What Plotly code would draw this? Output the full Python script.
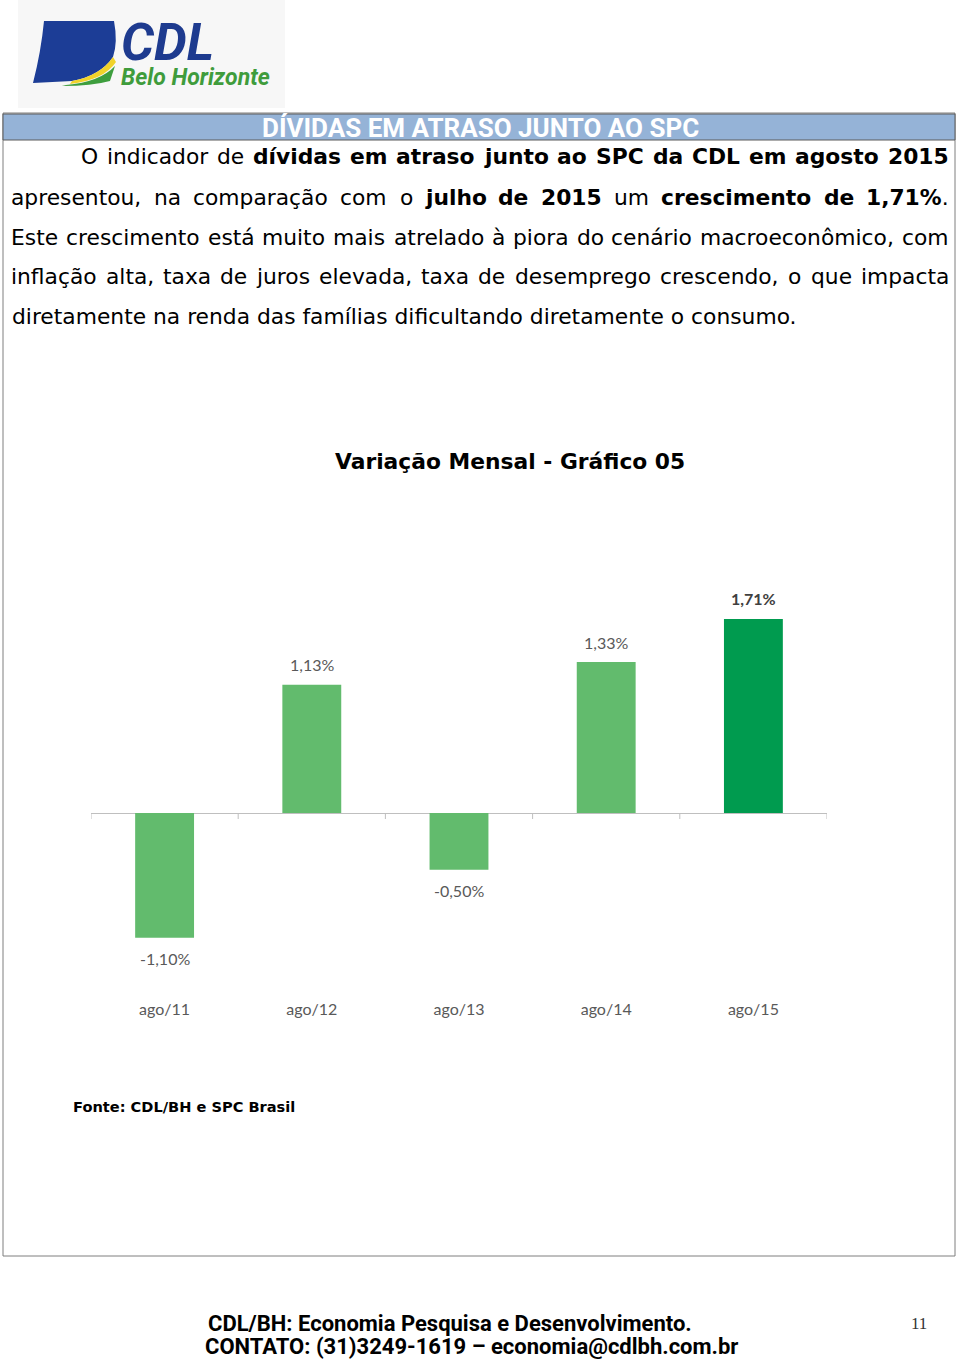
import plotly.graph_objects as go

# ---------------- data ----------------
categories = ["ago/11", "ago/12", "ago/13", "ago/14", "ago/15"]
values = [-1.10, 1.13, -0.50, 1.33, 1.71]
value_labels = ["-1,10%", "1,13%", "-0,50%", "1,33%", "1,71%"]
highlight = [False, False, False, False, True]

W, H = 960, 1359


def px(x):
    return x / W


def py(y):
    return 1 - y / H


LIGHT = "#62BB6D"
DARK = "#009B4F"
bar_colors = [DARK if h else LIGHT for h in highlight]

fig = go.Figure()
fig.add_trace(go.Bar(
    x=categories, y=values, width=0.4,
    marker=dict(color=bar_colors, line=dict(width=0)),
    hoverinfo="skip", showlegend=False,
))

# y scale: zero at 813 px, 113.5 px per unit
top_px, bot_px, zero_px, scale = 560, 998, 813, 113.5
y_top = (zero_px - top_px) / scale
y_bot = -(bot_px - zero_px) / scale

shapes = []
annotations = []

CHART_FONT = "Lato, Open Sans, sans-serif"

# value labels
for c, v, lab, h in zip(categories, values, value_labels, highlight):
    annotations.append(dict(
        x=c, y=v, xref="x", yref="y", text=f"<b>{lab}</b>" if h else lab,
        showarrow=False, yshift=20 if v >= 0 else -21, yanchor="middle",
        font=dict(family=CHART_FONT, size=16,
                  color="#404040" if h else "#595959"),
    ))

# tick marks on category boundaries along the zero line
for i in range(len(categories) + 1):
    shapes.append(dict(
        type="line", xref="x", yref="y", x0=i - 0.5, x1=i - 0.5,
        ysizemode="pixel", yanchor=0, y0=0, y1=-6,
        line=dict(color="#BFBFBF", width=1),
    ))

# ---------- page decoration ----------
shapes.append(dict(type="rect", xref="paper", yref="paper",
                   x0=px(18), x1=px(285), y0=py(108), y1=py(0),
                   fillcolor="#F7F7F7", line=dict(width=0), layer="below"))


def path(points):
    s = ""
    for cmd, pts in points:
        s += cmd + " " + " ".join(f"{px(a):.5f},{py(b):.5f}" for a, b in pts) + " "
    return s + "Z"


shapes.append(dict(type="path", xref="paper", yref="paper", line=dict(width=0),
                   fillcolor="#1C3D96",
                   path=path([("M", [(44, 21)]), ("L", [(114, 21)]),
                              ("Q", [(118, 42), (113, 57)]),
                              ("Q", [(100, 76), (72, 81)]),
                              ("L", [(33, 83)]),
                              ("Q", [(41, 52), (44, 21)])])))
shapes.append(dict(type="path", xref="paper", yref="paper", line=dict(width=0),
                   fillcolor="#F1D32A",
                   path=path([("M", [(72, 81)]), ("Q", [(100, 76), (113, 57)]),
                              ("L", [(116, 62)]),
                              ("Q", [(104, 80), (70, 84)])])))
shapes.append(dict(type="path", xref="paper", yref="paper", line=dict(width=0),
                   fillcolor="#3E9E3E",
                   path=path([("M", [(66, 85)]), ("Q", [(100, 82), (115, 66)]),
                              ("L", [(110, 81)]),
                              ("Q", [(92, 86), (62, 86)])])))

annotations.append(dict(xref="paper", yref="paper", x=px(120), y=py(42),
                        xanchor="left", yanchor="middle", showarrow=False,
                        text="<b><i>CDL</i></b>", borderpad=0,
                        font=dict(family="Roboto", size=52, color="#1E3B8F")))
annotations.append(dict(xref="paper", yref="paper", x=px(120), y=py(78),
                        xanchor="left", yanchor="middle", showarrow=False,
                        text="<b><i>Belo Horizonte</i></b>", borderpad=0,
                        font=dict(family="Roboto", size=23, color="#3F9C3C")))

# page frame
shapes.append(dict(type="rect", xref="paper", yref="paper",
                   x0=px(3), x1=px(955), y0=py(1256), y1=py(113),
                   line=dict(color="#7F7F7F", width=1), layer="below"))
# header bar
shapes.append(dict(type="rect", xref="paper", yref="paper",
                   x0=px(3), x1=px(955), y0=py(140), y1=py(114),
                   fillcolor="#95B3D7", line=dict(color="#5A5A5A", width=1),
                   layer="below"))
annotations.append(dict(xref="paper", yref="paper", x=px(480), y=py(128),
                        xanchor="center", yanchor="middle", showarrow=False,
                        text="<b>DÍVIDAS EM ATRASO JUNTO AO SPC</b>", borderpad=0,
                        font=dict(family="Roboto", size=26, color="white")))

# ---------- body text (justified, DejaVu Sans metrics, units/2048) ----------
REG = dict(zip(" abcdefghijklmnopqrstuvwxyz,.%OE",
               [651, 1255, 1300, 1126, 1300, 1260, 721, 1300, 1298, 569, 569, 1186, 569,
                1995, 1298, 1253, 1300, 1300, 842, 1067, 803, 1298, 1212, 1675, 1212,
                1212, 1075, 651, 651, 1946, 1612, 1294]))
BOLD = dict(zip(" abcdefghijklmnopqrstuvwxyz,.%SPCDL0123456789",
                [713, 1382, 1466, 1214, 1466, 1389, 891, 1466, 1458, 702, 702, 1362, 702,
                 2134, 1458, 1407, 1466, 1466, 1010, 1219, 979, 1458, 1335, 1833, 1327,
                 1335, 1219, 780, 780, 2052, 1473, 1538, 1499, 1700, 1305] + [1425] * 10))
ACC = {"á": "a", "à": "a", "ã": "a", "â": "a", "é": "e", "ê": "e", "í": "i",
       "ó": "o", "ô": "o", "õ": "o", "ú": "u", "ç": "c"}

BODY_SIZE = 21.8
BODY_FONT = "DejaVu Sans"


def seg_width(text, bold):
    table = BOLD if bold else REG
    return sum(table[ACC.get(ch, ch)] for ch in text) / 2048 * BODY_SIZE


# each line: list of segments (text, bold)
body_lines = [
    (80.5, 157, [("O indicador de ", False),
                 ("dívidas em atraso junto ao SPC da CDL em agosto 2015", True)]),
    (11, 197, [("apresentou, na comparação com o ", False), ("julho de 2015", True),
               (" um ", False), ("crescimento de 1,71%", True), (".", False)]),
    (11, 237, [("Este crescimento está muito mais atrelado à piora do cenário macroeconômico, com", False)]),
    (11, 277, [("inflação alta, taxa de juros elevada, taxa de desemprego crescendo, o que impacta", False)]),
]
last_line = (11, 317, "diretamente na renda das famílias dificultando diretamente o consumo.")
RIGHT_EDGE = 949

for x_left, y_c, segs in body_lines:
    words = [[]]
    for text, bold in segs:
        parts = text.split(" ")
        for k, part in enumerate(parts):
            if k > 0:
                words.append([])
            if part:
                words[-1].append((part, bold))
    words = [w for w in words if w]
    widths = [sum(seg_width(t, b) for t, b in w) for w in words]
    gap = (RIGHT_EDGE - x_left - sum(widths)) / (len(words) - 1)
    x = x_left
    for w, wd in zip(words, widths):
        html = "".join(f"<b>{t}</b>" if b else t for t, b in w)
        annotations.append(dict(xref="paper", yref="paper", x=px(x + wd / 2), y=py(y_c),
                                xanchor="center", yanchor="middle", showarrow=False,
                                text=html, borderpad=0,
                                font=dict(family=BODY_FONT, size=BODY_SIZE, color="#000000")))
        x += wd + gap

annotations.append(dict(xref="paper", yref="paper", x=px(last_line[0]), y=py(last_line[1]),
                        xanchor="left", yanchor="middle", showarrow=False,
                        text=last_line[2], borderpad=0,
                        font=dict(family=BODY_FONT, size=BODY_SIZE, color="#000000")))

# chart title
annotations.append(dict(xref="paper", yref="paper", x=px(510), y=py(462),
                        xanchor="center", yanchor="middle", showarrow=False,
                        text="<b>Variação Mensal - Gráfico 05</b>",
                        font=dict(family="DejaVu Sans", size=21.8, color="#000000")))

# source
annotations.append(dict(xref="paper", yref="paper", x=px(71), y=py(1106),
                        xanchor="left", yanchor="middle", showarrow=False,
                        text="<b>Fonte: CDL/BH e SPC Brasil</b>",
                        font=dict(family="DejaVu Sans", size=14.6, color="#000000")))

# footer
annotations.append(dict(xref="paper", yref="paper", x=px(207), y=py(1323),
                        xanchor="left", yanchor="middle", showarrow=False,
                        text="<b>CDL/BH: Economia Pesquisa e Desenvolvimento.</b>", borderpad=0,
                        font=dict(family="Roboto", size=22, color="#000000")))
annotations.append(dict(xref="paper", yref="paper", x=px(204), y=py(1346),
                        xanchor="left", yanchor="middle", showarrow=False,
                        text="<b>CONTATO: (31)3249-1619 – economia@cdlbh.com.br</b>", borderpad=0,
                        font=dict(family="Roboto", size=22, color="#000000")))
annotations.append(dict(xref="paper", yref="paper", x=px(919), y=py(1323),
                        xanchor="center", yanchor="middle", showarrow=False,
                        text="11",
                        font=dict(family="Liberation Serif", size=17, color="#333333")))

fig.update_layout(
    width=W, height=H,
    margin=dict(l=0, r=0, t=0, b=0),
    paper_bgcolor="white", plot_bgcolor="white",
    xaxis=dict(domain=[px(91), px(827)], range=[-0.5, 4.5],
               showgrid=False, showline=False, zeroline=False, ticks="",
               tickfont=dict(family=CHART_FONT, size=16, color="#595959")),
    yaxis=dict(domain=[py(bot_px), py(top_px)], range=[y_bot, y_top],
               showgrid=False, showline=False, showticklabels=False, ticks="",
               zeroline=True, zerolinecolor="#BFBFBF", zerolinewidth=1),
    shapes=shapes, annotations=annotations,
    bargap=0.6,
)

fig.write_html("out.html")
